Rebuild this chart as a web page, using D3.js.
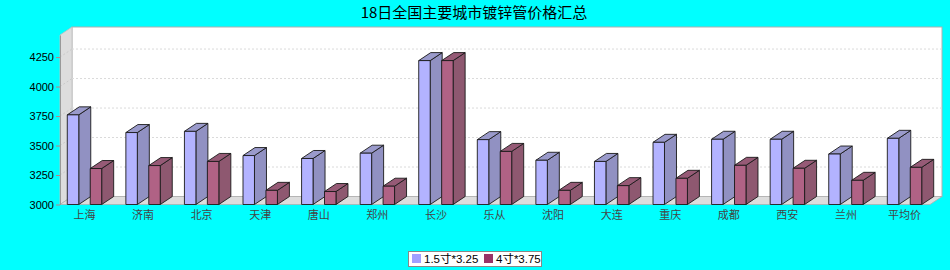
<!DOCTYPE html>
<html>
<head>
<meta charset="utf-8">
<script src="https://cdn.jsdelivr.net/npm/d3@7"></script>
<style>
    body { margin: 0; background: #00ffff; }
    svg  { display: block; }
</style>
</head>
<body>
<div id="graph"></div>
<script>
// The data...
var categories = [ '上海', '济南', '北京', '天津', '唐山', '郑州', '长沙', '乐从',
                   '沈阳', '大连', '重庆', '成都', '西安', '兰州', '平均价' ];
var seriesNames = [ '1.5寸*3.25', '4寸*3.75' ];
var series15 = [ 3760, 3610, 3620, 3415, 3390, 3435, 4220, 3550, 3375, 3365, 3527, 3553, 3553, 3428, 3561 ];
var series40 = [ 3305, 3330, 3365, 3120, 3110, 3155, 4220, 3450, 3120, 3160, 3222, 3332, 3307, 3205, 3315 ];
var yTicks = [ 3000, 3250, 3500, 3750, 4000, 4250 ];

function D3App ()
{
    var W = 950, H = 270;

    // 3D look
    var depthX = 12, depthY = 8;

    var plot = { left: 60, right: 930, top: 35, bottom: 204.5 };

    var frontColours = [ '#b3b3ff', '#b06285' ];
    var sideColours  = [ '#9191c2', '#8e5870' ];
    var topColours   = [ '#9a9acb', '#965a76' ];
    var legendColours = [ '#a0a0ff', '#993366' ];

    var svg = d3.select ('#graph').append ('svg')
                .attr ('width', W)
                .attr ('height', H);

    svg.append ('rect')
       .attr ('width', W).attr ('height', H)
       .attr ('fill', '#00ffff');

    // title
    svg.append ('text')
       .attr ('x', 474)
       .attr ('y', 18)
       .attr ('text-anchor', 'middle')
       .attr ('font-family', '"Noto Sans CJK SC", sans-serif')
       .attr ('font-size', '15px')
       .attr ('fill', 'black')
       .text ('18日全国主要城市镀锌管价格汇总');

    var yScale = d3.scaleLinear ()
                   .domain ( [ 3000, 4437 ] )
                   .range ( [ plot.bottom, plot.top ] );

    var xScale = d3.scaleBand ()
                   .domain (categories)
                   .range ( [ 55.2, 933.8 ] );

    var inner = d3.scaleBand ()
                  .domain ( [ 0, 1 ] )
                  .range ( [ xScale.bandwidth () / 2 - 17.2, xScale.bandwidth () / 2 + 17.2 ] )
                  .paddingInner (0.5);

    // back wall
    svg.append ('rect')
       .attr ('x', plot.left + depthX)
       .attr ('y', plot.top - depthY)
       .attr ('width', plot.right - plot.left)
       .attr ('height', plot.bottom - plot.top)
       .attr ('fill', 'white')
       .attr ('stroke', '#b0b0b0')
       .attr ('stroke-width', 1);

    // left wall
    svg.append ('path')
       .attr ('d', 'M' + plot.left + ',' + plot.top +
                   'L' + (plot.left + depthX) + ',' + (plot.top - depthY) +
                   'L' + (plot.left + depthX) + ',' + (plot.bottom - depthY) +
                   'L' + plot.left + ',' + plot.bottom + 'Z')
       .attr ('fill', '#dddddd')
       .attr ('stroke', '#c0c0c0')
       .attr ('stroke-width', 0.8);

    // floor
    svg.append ('path')
       .attr ('d', 'M' + plot.left + ',' + plot.bottom +
                   'L' + (plot.left + depthX) + ',' + (plot.bottom - depthY) +
                   'L' + (plot.right + depthX) + ',' + (plot.bottom - depthY) +
                   'L' + plot.right + ',' + plot.bottom + 'Z')
       .attr ('fill', '#dddddd')
       .attr ('stroke', '#b0b0b0')
       .attr ('stroke-width', 0.8);

    // gridlines on walls
    var grid = yTicks.filter (function (d) { return d > 3000; });

    svg.selectAll ('.gridBack')
       .data (grid)
       .enter ()
       .append ('line')
       .attr ('x1', plot.left + depthX)
       .attr ('x2', plot.right + depthX)
       .attr ('y1', function (d) { return yScale (d) - depthY; })
       .attr ('y2', function (d) { return yScale (d) - depthY; })
       .attr ('stroke', '#dadada')
       .attr ('stroke-dasharray', '2,2');

    svg.selectAll ('.gridSide')
       .data (grid)
       .enter ()
       .append ('line')
       .attr ('x1', plot.left)
       .attr ('x2', plot.left + depthX)
       .attr ('y1', function (d) { return yScale (d); })
       .attr ('y2', function (d) { return yScale (d) - depthY; })
       .attr ('stroke', '#cacaca')
       .attr ('stroke-dasharray', '2,2');

    // bars
    var dataset = [ series15, series40 ];

    for (var i = 0; i < categories.length; i++)
    {
        for (var s = 0; s < dataset.length; s++)
        {
            var x0 = xScale (categories[i]) + inner (s);
            var x1 = x0 + inner.bandwidth ();
            var yT = yScale (dataset[s][i]);
            var yB = yScale (3000);

            var g = svg.append ('g')
                       .attr ('stroke', '#1a1a1a')
                       .attr ('stroke-width', 0.9)
                       .attr ('stroke-linejoin', 'round');

            // side
            g.append ('path')
             .attr ('d', 'M' + x1 + ',' + yB + 'L' + x1 + ',' + yT +
                         'L' + (x1 + depthX) + ',' + (yT - depthY) +
                         'L' + (x1 + depthX) + ',' + (yB - depthY) + 'Z')
             .attr ('fill', sideColours[s]);

            // top
            g.append ('path')
             .attr ('d', 'M' + x0 + ',' + yT + 'L' + (x0 + depthX) + ',' + (yT - depthY) +
                         'L' + (x1 + depthX) + ',' + (yT - depthY) +
                         'L' + x1 + ',' + yT + 'Z')
             .attr ('fill', topColours[s]);

            // front
            g.append ('rect')
             .attr ('x', x0)
             .attr ('y', yT)
             .attr ('width', x1 - x0)
             .attr ('height', yB - yT)
             .attr ('fill', frontColours[s]);
        }
    }

    // y axis
    var yAxis = d3.axisLeft ()
                  .scale (yScale)
                  .tickValues (yTicks)
                  .tickSize (4)
                  .tickSizeOuter (0)
                  .tickFormat (d3.format ('d'));

    var ya = svg.append ('g')
                .attr ('transform', 'translate(' + plot.left + ',0)')
                .call (yAxis);

    ya.select ('.domain').attr ('stroke', '#999');
    ya.selectAll ('.tick line').attr ('stroke', '#c08080');
    ya.selectAll ('.tick text')
      .attr ('font-family', '"Liberation Sans", sans-serif')
      .attr ('font-size', '11px')
      .attr ('fill', 'black')
      .attr ('x', -6);

    // x labels
    svg.selectAll ('.xlab')
       .data (categories)
       .enter ()
       .append ('text')
       .attr ('x', function (d) { return xScale (d) + xScale.bandwidth () / 2; })
       .attr ('y', 219)
       .attr ('text-anchor', 'middle')
       .attr ('font-family', '"Noto Sans CJK SC", sans-serif')
       .attr ('font-size', '11px')
       .attr ('fill', '#444')
       .text (function (d) { return d; });

    // legend
    var legend = svg.append ('g');

    legend.append ('rect')
          .attr ('x', 408.5).attr ('y', 251.5)
          .attr ('width', 133).attr ('height', 15)
          .attr ('fill', 'white')
          .attr ('stroke', '#888');

    var legendX = [ 412, 484 ];

    for (var k = 0; k < seriesNames.length; k++)
    {
        legend.append ('rect')
              .attr ('x', legendX[k]).attr ('y', 254)
              .attr ('width', 9).attr ('height', 9)
              .attr ('fill', legendColours[k]);

        legend.append ('text')
              .attr ('x', legendX[k] + 12)
              .attr ('y', 263)
              .attr ('font-family', '"Liberation Sans", "Noto Sans CJK SC", sans-serif')
              .attr ('font-size', '11.5px')
              .attr ('fill', 'black')
              .text (seriesNames[k]);
    }
}

D3App ();
</script>
</body>
</html>
